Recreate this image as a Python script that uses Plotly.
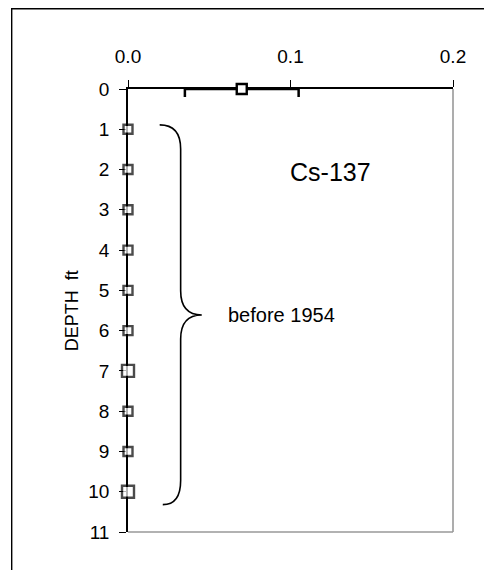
import plotly.graph_objects as go

# Data
surface_depth = [0]
surface_cs137 = [0.07]
surface_err = [0.035]

deep_depth = [1, 2, 3, 4, 5, 6, 7, 8, 9, 10]
deep_cs137 = [0, 0, 0, 0, 0, 0, 0, 0, 0, 0]

x_ticks = [0.0, 0.1, 0.2]
y_ticks = list(range(0, 12))

brace_top, brace_mid, brace_bot = 0.89, 5.61, 10.32
brace_label = "before 1954"
nuclide_label = "Cs-137"
y_title = "DEPTH  ft"

FONT = "Liberation Sans, Arial, sans-serif"

# figure geometry (page has 8px body margin)
W, H = 476, 562
L, T, PW, PH = 120.3, 81, 325, 443

fig = go.Figure()
fig.add_trace(go.Scatter(
    x=deep_cs137, y=deep_depth, mode="markers",
    marker=dict(symbol="square", size=[9, 9, 9, 9, 9, 9, 12, 9, 9, 12],
                color="white", line=dict(color="black", width=2.4)),
    showlegend=False, cliponaxis=False))
fig.add_trace(go.Scatter(
    x=surface_cs137, y=surface_depth, mode="markers",
    marker=dict(symbol="square", size=10, color="white",
                line=dict(color="black", width=2.4)),
    error_x=dict(type="data", array=surface_err, color="black",
                 thickness=2.5, width=8),
    showlegend=False, cliponaxis=False))

# brace in data coordinates
xa, xv, xp, xb = 0.0195, 0.0324, 0.0454, 0.0214
path = (f"M {xa},{brace_top} Q {xv},{brace_top} {xv},{brace_top+0.6} "
        f"L {xv},{brace_mid-0.6} Q {xv},{brace_mid} {xp},{brace_mid} "
        f"Q {xv},{brace_mid} {xv},{brace_mid+0.6} "
        f"L {xv},{brace_bot-0.6} Q {xv},{brace_bot} {xb},{brace_bot}")
shapes = [
    dict(type="path", path=path, xref="x", yref="y",
         line=dict(color="black", width=1.6)),
    dict(type="line", xref="paper", yref="paper", x0=1, x1=1, y0=0, y1=1,
         line=dict(color="#999999", width=1.6), layer="below"),
    dict(type="line", xref="paper", yref="paper", x0=0, x1=1, y0=0, y1=0,
         line=dict(color="#999999", width=1.6), layer="below"),
    dict(type="rect", xref="paper", yref="paper",
         x0=(4 - L) / PW, x1=(W + 20 - L) / PW,
         y0=-(H + 20 - T - PH) / PH, y1=1 + (T - 0.7) / PH,
         line=dict(color="black", width=1.4), layer="below"),
]

annotations = [
    dict(x=0.0606, y=brace_mid, xref="x", yref="y", text=brace_label,
         showarrow=False, xanchor="left", yanchor="middle",
         font=dict(family=FONT, size=20, color="black")),
    dict(x=0.0983, y=2.05, xref="x", yref="y", text=nuclide_label,
         showarrow=False, xanchor="left", yanchor="middle",
         font=dict(family=FONT, size=25, color="black")),
    dict(x=(64 - L) / PW, y=0.5, xref="paper", yref="paper", text=y_title,
         showarrow=False, xanchor="center", yanchor="middle", textangle=-90,
         font=dict(family=FONT, size=18, color="black")),
]

fig.update_layout(
    width=W, height=H,
    margin=dict(l=L, r=W - L - PW, t=T, b=H - T - PH, pad=0),
    paper_bgcolor="white", plot_bgcolor="white",
    font=dict(family=FONT, size=19, color="black"),
    shapes=shapes, annotations=annotations,
    xaxis=dict(side="top", range=[0, 0.2], tickvals=x_ticks,
               ticktext=[f"{v:.1f}" for v in x_ticks],
               showgrid=False, zeroline=False, showline=True,
               linecolor="black", linewidth=1.6, layer="below traces",
               ticks="outside", ticklen=7, tickcolor="black", tickwidth=1.2,
               ticklabelstandoff=10),
    yaxis=dict(range=[11, 0], tickvals=y_ticks,
               showgrid=False, zeroline=False, showline=True,
               linecolor="black", linewidth=1.6, layer="below traces",
               ticks="outside", ticklen=7, tickcolor="black", tickwidth=1.2,
               ticklabelstandoff=6),
)

fig.write_html("out.html")
